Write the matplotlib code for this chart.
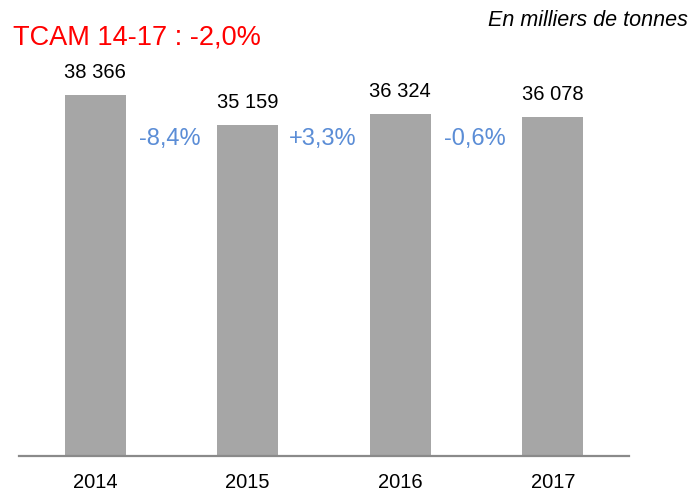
import matplotlib
matplotlib.use("Agg")
import matplotlib.pyplot as plt
import matplotlib.transforms as mtransforms

years = ["2014", "2015", "2016", "2017"]
values = [38366, 35159, 36324, 36078]
value_labels = ["38 366", "35 159", "36 324", "36 078"]
growth_labels = ["-8,4%", "+3,3%", "-0,6%"]
title = "TCAM 14-17 : -2,0%"
unit_note = "En milliers de tonnes"

plt.rcParams['font.family'] = ['Liberation Sans', 'DejaVu Sans']

W, H = 693, 492
fig = plt.figure(figsize=(W / 100, H / 100), dpi=100)
ax = fig.add_axes([19 / W, (H - 456) / H, 610 / W, 456 / H])

x = list(range(len(years)))
ax.bar(x, values, width=0.4, color="#a6a6a6", zorder=2)
ax.set_xlim(-0.5, len(years) - 0.5)
ax.set_ylim(0, max(values) * 456 / 361)

for s in ["top", "right", "left"]:
    ax.spines[s].set_visible(False)
ax.spines["bottom"].set_color("#8a8a8a")
ax.spines["bottom"].set_linewidth(1.6)
ax.set_yticks([])
ax.set_xticks(x)
ax.set_xticklabels(years, fontsize=14.5, color="#000000")
ax.tick_params(axis="x", length=0, pad=12)

for xi, v, lab in zip(x, values, value_labels):
    ax.annotate(lab, (xi, v), xytext=(0, 16), textcoords="offset points",
                ha="center", va="center", fontsize=14.5, color="#000000")

trans = mtransforms.blended_transform_factory(ax.transData, ax.transAxes)
for i, lab in enumerate(growth_labels):
    ax.text(i + 0.49, (456 - 139) / 456, lab, transform=trans, ha="center", va="center",
            fontsize=17, color="#5b8dd6")

fig.text(13 / W, 1 - 37 / H, title, ha="left", va="center", fontsize=19.5, color="#ff0000")
fig.text(688 / W, 1 - 21 / H, unit_note, ha="right", va="center", fontsize=15.5,
         style="italic", color="#000000")

fig.savefig("out.png", dpi=100)
